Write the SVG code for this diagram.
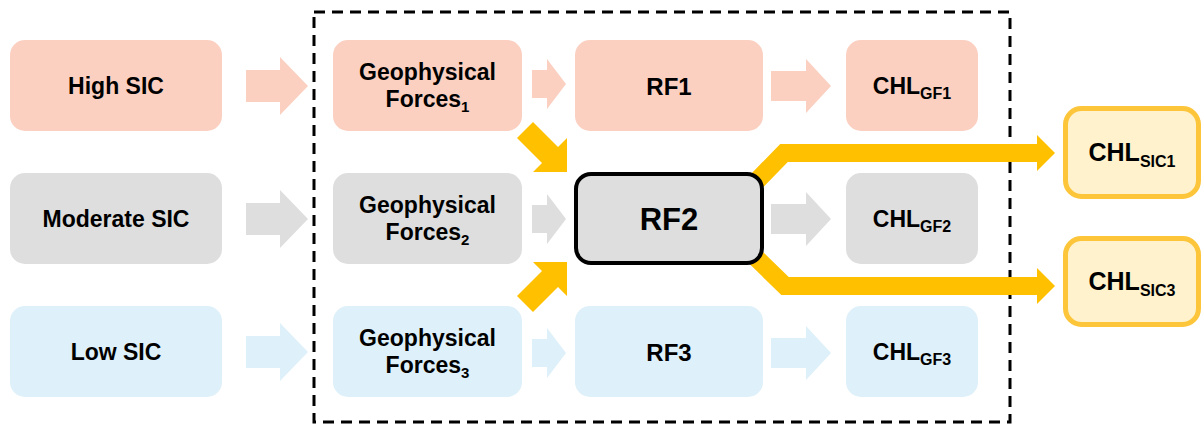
<svg xmlns="http://www.w3.org/2000/svg" width="1202" height="425" viewBox="0 0 1202 425">
<style>
text{font-family:"Liberation Sans",Arial,sans-serif;font-weight:bold;fill:#000;text-anchor:middle}
.t{font-size:23px}
.pink{fill:#fbd0c1}
.gray{fill:#dedede}
.blue{fill:#def0f9}
.yel{fill:#ffc000}
.yl{fill:none;stroke:#ffc000;stroke-width:18;stroke-linejoin:miter}
.sic{fill:#fff2cc;stroke:#fcc53a;stroke-width:5}
.rf2{fill:#dedede;stroke:#000;stroke-width:4}
.dash{fill:none;stroke:#000;stroke-width:3;stroke-dasharray:11 7}
</style>
<defs>
<path id="bigA" d="M0,-16 H34 V-29 L62,0 L34,29 V16 H0 Z"/>
<path id="smallA" d="M0,-14 H15 V-25 L34,0 L15,25 V14 H0 Z"/>
<path id="midA" d="M0,-15 H35 V-27 L60,0 L35,27 V15 H0 Z"/>
</defs>
<rect class="dash" x="314" y="12" width="696" height="410"/>
<g id="connectors">
<use href="#bigA" class="pink" x="246" y="86"/>
<use href="#bigA" class="gray" x="246" y="219"/>
<use href="#bigA" class="blue" x="246" y="352"/>
<use href="#smallA" class="pink" x="532" y="84"/>
<use href="#smallA" class="gray" x="532" y="219"/>
<use href="#smallA" class="blue" x="532" y="353"/>
<use href="#midA" class="pink" x="771" y="86"/>
<use href="#midA" class="gray" x="771" y="219"/>
<use href="#midA" class="blue" x="771" y="353"/>
<polygon class="yel" points="533,122 558,147 567,138 567,172 533,172 542,163 517,138"/>
<polygon class="yel" points="533,312 558,287 567,296 567,262 533,262 542,271 517,296"/>
<polyline class="yl" points="745,193 784,153 1038,153"/>
<polygon class="yel" points="1037,135 1055,153 1037,171"/>
<polyline class="yl" points="745,247 785,286 1038,286"/>
<polygon class="yel" points="1037,268 1055,286 1037,304"/>
</g>
<g id="high-sic"><rect class="pink" x="10" y="40" width="212" height="91" rx="15"/><text class="t" x="116" y="94">High SIC</text></g>
<g id="moderate-sic"><rect class="gray" x="10" y="173" width="212" height="91" rx="15"/><text class="t" x="116" y="227">Moderate SIC</text></g>
<g id="low-sic"><rect class="blue" x="10" y="306" width="212" height="91" rx="15"/><text class="t" x="116" y="360">Low SIC</text></g>
<g id="gf1"><rect class="pink" x="333" y="40" width="189" height="91" rx="15"/><text class="t"><tspan x="427.5" y="80">Geophysical</tspan><tspan x="427.5" y="107">Forces<tspan font-size="15" dy="5">1</tspan></tspan></text></g>
<g id="gf2"><rect class="gray" x="333" y="173" width="189" height="91" rx="15"/><text class="t"><tspan x="427.5" y="213">Geophysical</tspan><tspan x="427.5" y="240">Forces<tspan font-size="15" dy="5">2</tspan></tspan></text></g>
<g id="gf3"><rect class="blue" x="333" y="306" width="189" height="91" rx="15"/><text class="t"><tspan x="427.5" y="346">Geophysical</tspan><tspan x="427.5" y="373">Forces<tspan font-size="15" dy="5">3</tspan></tspan></text></g>
<g id="rf1"><rect class="pink" x="575" y="40" width="188" height="91" rx="15"/><text x="669" y="95" font-size="24">RF1</text></g>
<g id="rf2"><rect class="rf2" x="576" y="174" width="186" height="89" rx="15"/><text x="669" y="230" font-size="31">RF2</text></g>
<g id="rf3"><rect class="blue" x="575" y="306" width="188" height="91" rx="15"/><text x="669" y="361" font-size="24">RF3</text></g>
<g id="chl-gf1"><rect class="pink" x="846" y="40" width="132" height="91" rx="15"/><text class="t" x="912" y="94">CHL<tspan font-size="16" dy="5">GF1</tspan></text></g>
<g id="chl-gf2"><rect class="gray" x="846" y="173" width="132" height="91" rx="15"/><text class="t" x="912" y="227">CHL<tspan font-size="16" dy="5">GF2</tspan></text></g>
<g id="chl-gf3"><rect class="blue" x="846" y="306" width="132" height="91" rx="15"/><text class="t" x="912" y="360">CHL<tspan font-size="16" dy="5">GF3</tspan></text></g>
<g id="chl-sic1"><rect class="sic" x="1065.5" y="108.5" width="133" height="88" rx="16"/><text x="1132" y="161" font-size="25">CHL<tspan font-size="16" dy="6">SIC1</tspan></text></g>
<g id="chl-sic3"><rect class="sic" x="1065.5" y="238.5" width="133" height="86" rx="16"/><text x="1132" y="290" font-size="25">CHL<tspan font-size="16" dy="6">SIC3</tspan></text></g>
</svg>
